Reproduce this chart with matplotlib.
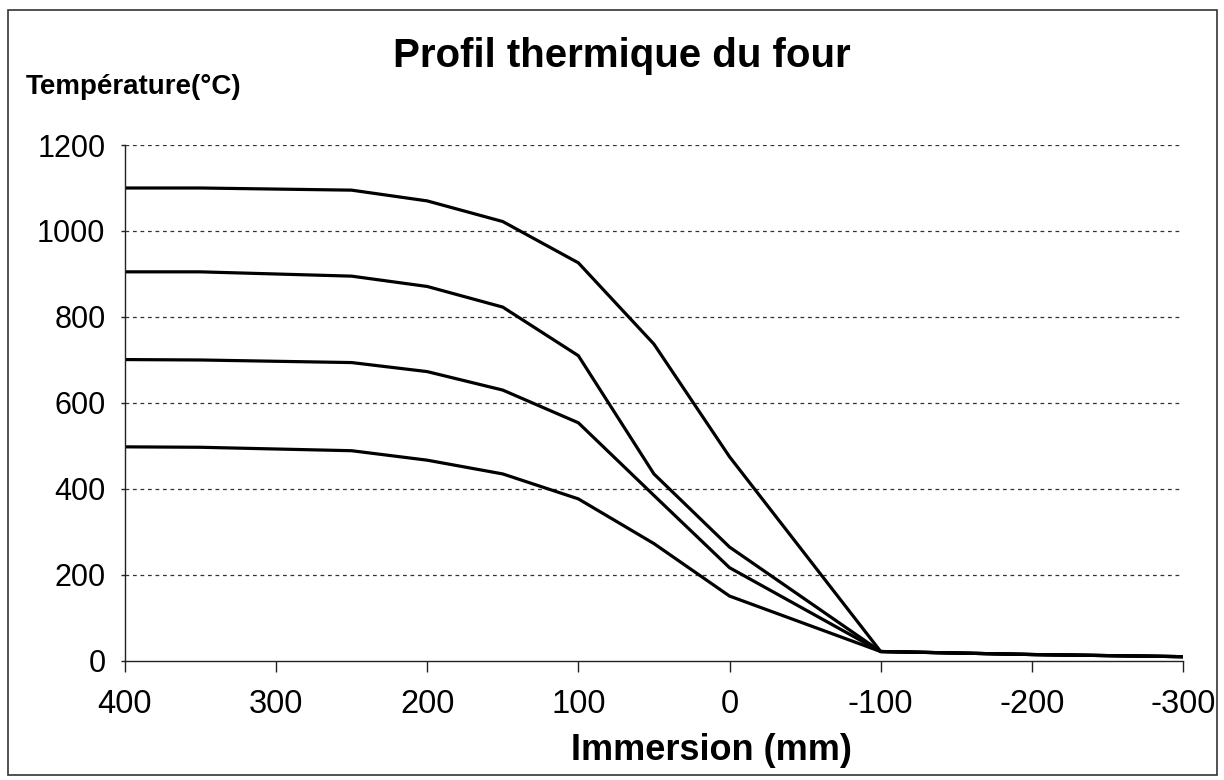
import matplotlib
matplotlib.use("Agg")
import matplotlib.pyplot as plt
from matplotlib.patches import Rectangle

# Data
immersion = [400, 350, 250, 200, 150, 100, 50, 0, -100, -200, -300]
t_1100 = [1100, 1100, 1095, 1070, 1022, 926, 737, 475, 22, 15, 10]
t_900 = [905, 905, 895, 871, 823, 710, 435, 265, 22, 15, 10]
t_700 = [701, 700, 694, 673, 630, 554, 385, 217, 22, 15, 10]
t_500 = [498, 497, 489, 467, 435, 377, 273, 151, 22, 15, 10]
series = [t_1100, t_900, t_700, t_500]

x_ticks = [400, 300, 200, 100, 0, -100, -200, -300]
y_ticks = [0, 200, 400, 600, 800, 1000, 1200]

title = "Profil thermique du four"
ylabel = "Température(°C)"
xlabel = "Immersion (mm)"

plt.rcParams['font.family'] = ['Liberation Sans', 'DejaVu Sans']

fig = plt.figure(figsize=(12.24, 7.8), dpi=100)
ax = fig.add_axes([0.102, 0.1526, 0.8645, 0.6615])

for s in series:
    ax.plot(immersion, s, color='black', lw=2.3, solid_joinstyle='miter')

ax.set_xlim(400, -300)
ax.set_ylim(0, 1200)
ax.set_xticks(x_ticks)
ax.set_xticklabels([str(v) for v in x_ticks])
ax.set_yticks(y_ticks)
ax.set_yticklabels([str(v) for v in y_ticks])

for yv in y_ticks[1:]:
    ax.axhline(yv, color='#333333', lw=0.9, ls=(0, (3, 3)), zorder=0)

for sp in ['top', 'right']:
    ax.spines[sp].set_visible(False)
for sp in ['left', 'bottom']:
    ax.spines[sp].set_color('#222222')
    ax.spines[sp].set_linewidth(1.0)

ax.tick_params(axis='x', direction='out', length=8, width=1.0, pad=12,
               labelsize=23.5, colors='#222222', labelcolor='black')
ax.tick_params(axis='y', direction='out', length=3, width=1.0, pad=11,
               labelsize=22, colors='#222222', labelcolor='black')

fig.text(0.508, 0.928, title, ha='center', va='center', fontsize=29,
         fontweight='bold')
fig.text(0.021, 0.889, ylabel, ha='left', va='center', fontsize=20,
         fontweight='bold')
fig.text(0.581, 0.038, xlabel, ha='center', va='center', fontsize=26,
         fontweight='bold')

fig.patches.append(Rectangle((8 / 1224, 1 - 775 / 780), (1217 - 8) / 1224,
                             (775 - 10) / 780, transform=fig.transFigure,
                             fill=False, edgecolor='#333333', lw=1.2))

fig.savefig('out.png', dpi=100, facecolor='white')
